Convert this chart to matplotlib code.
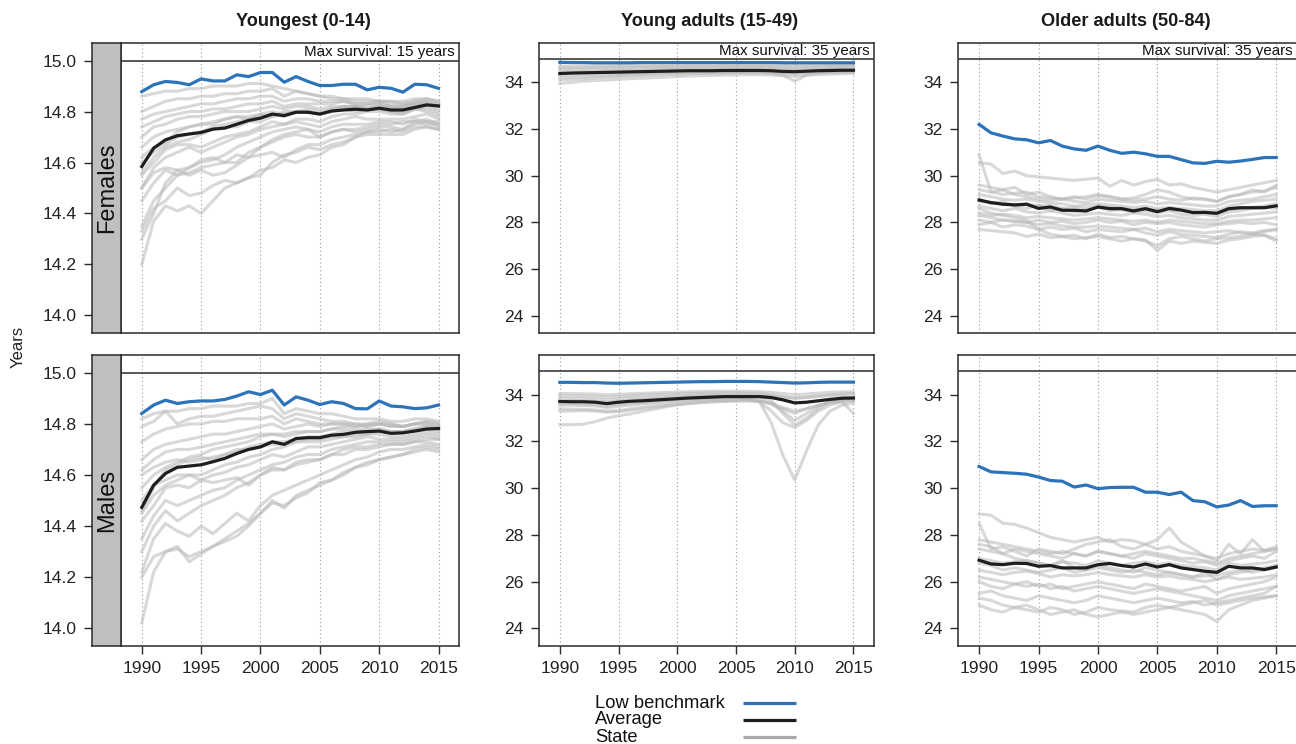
import matplotlib
matplotlib.use("Agg")
import matplotlib.pyplot as plt
import numpy as np

plt.rcParams['font.family'] = ['Liberation Sans', 'DejaVu Sans']

years = list(range(1990, 2016))
col_titles = ["Youngest (0-14)", "Young adults (15-49)", "Older adults (50-84)"]
row_labels = ["Females", "Males"]
max_survival = [15, 35, 35]
strip_texts = ["Max survival: 15 years", "Max survival: 35 years", "Max survival: 35 years"]
legend_labels = ["Low benchmark", "Average", "State"]

# ---------------- Females 0-14 ----------------
f_young_bench = [14.878, 14.905, 14.918, 14.914, 14.905, 14.928, 14.92, 14.92, 14.944, 14.937, 14.953, 14.953, 14.915,
                 14.937, 14.918, 14.902, 14.902, 14.907, 14.907, 14.885, 14.895, 14.891, 14.876, 14.907, 14.905, 14.891]
f_young_avg = [14.584, 14.656, 14.689, 14.705, 14.712, 14.718, 14.731, 14.735, 14.75, 14.765, 14.774, 14.79, 14.784,
               14.797, 14.797, 14.79, 14.802, 14.806, 14.809, 14.806, 14.813, 14.806, 14.806, 14.816, 14.826, 14.822]
f_young_states = [
    [14.86,14.87,14.88,14.88,14.89,14.89,14.90,14.90,14.90,14.91,14.91,14.90,14.89,14.88,14.87,14.86,14.86,14.85,14.85,14.85,14.84,14.84,14.84,14.85,14.85,14.84],
    [14.80,14.82,14.84,14.85,14.85,14.86,14.86,14.87,14.87,14.88,14.88,14.89,14.86,14.88,14.87,14.86,14.85,14.85,14.84,14.84,14.84,14.84,14.83,14.84,14.84,14.83],
    [14.74,14.76,14.78,14.79,14.80,14.80,14.81,14.81,14.82,14.83,14.83,14.84,14.82,14.83,14.83,14.83,14.83,14.84,14.83,14.83,14.84,14.83,14.83,14.84,14.85,14.84],
    [14.70,14.74,14.75,14.77,14.78,14.78,14.79,14.80,14.80,14.80,14.81,14.82,14.81,14.82,14.82,14.81,14.82,14.82,14.82,14.81,14.82,14.82,14.81,14.82,14.83,14.82],
    [14.62,14.66,14.68,14.72,14.74,14.75,14.75,14.77,14.78,14.77,14.79,14.80,14.79,14.80,14.81,14.80,14.81,14.81,14.80,14.81,14.81,14.80,14.80,14.81,14.82,14.80],
    [14.56,14.62,14.66,14.68,14.69,14.71,14.73,14.74,14.74,14.76,14.76,14.78,14.79,14.80,14.80,14.79,14.80,14.82,14.82,14.81,14.81,14.80,14.79,14.81,14.81,14.79],
    [14.55,14.60,14.65,14.67,14.67,14.66,14.68,14.70,14.71,14.72,14.74,14.76,14.75,14.77,14.77,14.76,14.78,14.79,14.79,14.80,14.80,14.79,14.79,14.81,14.80,14.78],
    [14.50,14.58,14.62,14.64,14.66,14.64,14.66,14.68,14.70,14.71,14.73,14.74,14.75,14.76,14.75,14.74,14.76,14.77,14.78,14.77,14.77,14.77,14.77,14.78,14.79,14.77],
    [14.45,14.52,14.57,14.55,14.58,14.60,14.61,14.63,14.66,14.68,14.70,14.72,14.73,14.74,14.73,14.72,14.74,14.75,14.75,14.75,14.76,14.76,14.75,14.77,14.76,14.76],
    [14.35,14.45,14.50,14.55,14.56,14.58,14.59,14.60,14.60,14.64,14.66,14.68,14.70,14.71,14.70,14.70,14.72,14.73,14.73,14.74,14.75,14.75,14.76,14.76,14.77,14.75],
    [14.30,14.40,14.52,14.57,14.58,14.61,14.62,14.60,14.63,14.62,14.66,14.69,14.71,14.72,14.73,14.70,14.72,14.73,14.72,14.73,14.74,14.74,14.73,14.75,14.76,14.74],
    [14.20,14.37,14.43,14.41,14.43,14.40,14.45,14.50,14.52,14.54,14.55,14.60,14.63,14.64,14.66,14.65,14.67,14.68,14.70,14.71,14.71,14.71,14.71,14.73,14.74,14.73],
    [14.33,14.42,14.45,14.50,14.47,14.48,14.51,14.53,14.52,14.54,14.57,14.58,14.61,14.60,14.62,14.63,14.66,14.67,14.70,14.72,14.73,14.72,14.73,14.76,14.75,14.75],
    [14.50,14.56,14.58,14.57,14.55,14.57,14.55,14.56,14.59,14.62,14.63,14.64,14.62,14.65,14.67,14.67,14.69,14.70,14.71,14.72,14.72,14.73,14.72,14.74,14.74,14.73],
    [14.66,14.70,14.72,14.73,14.74,14.75,14.76,14.77,14.78,14.78,14.79,14.78,14.80,14.80,14.80,14.79,14.80,14.81,14.82,14.81,14.82,14.81,14.82,14.83,14.83,14.82],
    [14.60,14.64,14.67,14.70,14.71,14.72,14.74,14.75,14.76,14.77,14.78,14.79,14.78,14.80,14.80,14.79,14.81,14.82,14.82,14.82,14.83,14.82,14.82,14.83,14.84,14.83],
    [14.77,14.79,14.80,14.81,14.82,14.83,14.83,14.84,14.85,14.85,14.86,14.86,14.84,14.85,14.85,14.84,14.84,14.84,14.83,14.83,14.83,14.82,14.82,14.83,14.83,14.81],
]

# ---------------- Males 0-14 ----------------
m_young_bench = [14.841, 14.874, 14.893, 14.88, 14.887, 14.89, 14.89, 14.896, 14.909, 14.926, 14.915, 14.932, 14.874,
                 14.906, 14.893, 14.876, 14.887, 14.88, 14.86, 14.859, 14.89, 14.87, 14.867, 14.86, 14.863, 14.874]
m_young_avg = [14.473, 14.56, 14.606, 14.63, 14.635, 14.64, 14.652, 14.665, 14.684, 14.70, 14.71, 14.73, 14.72,
               14.743, 14.746, 14.746, 14.756, 14.759, 14.767, 14.77, 14.772, 14.763, 14.765, 14.772, 14.78, 14.782]
m_young_states = [
    [14.82,14.84,14.85,14.85,14.86,14.86,14.87,14.87,14.87,14.88,14.88,14.90,14.84,14.86,14.85,14.84,14.84,14.83,14.82,14.82,14.82,14.81,14.81,14.82,14.82,14.81],
    [14.79,14.81,14.85,14.80,14.82,14.83,14.83,14.84,14.85,14.86,14.87,14.86,14.82,14.84,14.83,14.82,14.81,14.81,14.80,14.80,14.81,14.80,14.79,14.80,14.80,14.79],
    [14.73,14.76,14.78,14.79,14.80,14.80,14.81,14.81,14.82,14.82,14.82,14.83,14.80,14.82,14.81,14.80,14.80,14.80,14.79,14.80,14.80,14.79,14.79,14.80,14.81,14.80],
    [14.66,14.70,14.72,14.73,14.74,14.75,14.76,14.76,14.77,14.78,14.79,14.80,14.78,14.79,14.80,14.79,14.80,14.80,14.80,14.79,14.80,14.79,14.79,14.80,14.80,14.79],
    [14.62,14.66,14.69,14.70,14.70,14.71,14.72,14.73,14.74,14.75,14.76,14.76,14.76,14.77,14.77,14.77,14.78,14.78,14.78,14.77,14.78,14.77,14.77,14.78,14.79,14.78],
    [14.46,14.55,14.62,14.64,14.66,14.67,14.66,14.68,14.69,14.71,14.72,14.73,14.73,14.74,14.75,14.75,14.76,14.77,14.77,14.78,14.78,14.77,14.77,14.78,14.79,14.78],
    [14.45,14.52,14.56,14.58,14.60,14.60,14.62,14.64,14.65,14.67,14.68,14.70,14.71,14.73,14.73,14.73,14.74,14.75,14.75,14.76,14.76,14.75,14.75,14.76,14.77,14.76],
    [14.42,14.48,14.55,14.56,14.55,14.58,14.60,14.61,14.63,14.64,14.66,14.68,14.67,14.69,14.71,14.71,14.72,14.73,14.74,14.75,14.74,14.74,14.74,14.75,14.76,14.75],
    [14.35,14.44,14.50,14.48,14.50,14.52,14.54,14.55,14.58,14.60,14.62,14.64,14.65,14.67,14.68,14.68,14.70,14.71,14.72,14.73,14.73,14.73,14.73,14.74,14.75,14.74],
    [14.30,14.40,14.46,14.42,14.45,14.48,14.50,14.52,14.55,14.57,14.60,14.63,14.62,14.65,14.66,14.66,14.68,14.70,14.71,14.71,14.72,14.72,14.72,14.73,14.73,14.72],
    [14.22,14.35,14.41,14.38,14.36,14.40,14.37,14.41,14.45,14.42,14.48,14.52,14.54,14.56,14.58,14.60,14.62,14.64,14.66,14.67,14.69,14.70,14.70,14.71,14.72,14.71],
    [14.20,14.28,14.30,14.31,14.28,14.30,14.32,14.35,14.38,14.41,14.45,14.49,14.48,14.51,14.53,14.57,14.58,14.61,14.63,14.64,14.66,14.67,14.68,14.69,14.70,14.69],
    [14.02,14.22,14.30,14.32,14.26,14.29,14.32,14.34,14.36,14.40,14.45,14.50,14.47,14.52,14.54,14.56,14.58,14.60,14.63,14.65,14.66,14.67,14.68,14.70,14.71,14.70],
    [14.50,14.56,14.58,14.60,14.60,14.58,14.57,14.58,14.59,14.56,14.60,14.62,14.62,14.64,14.65,14.66,14.68,14.68,14.70,14.70,14.71,14.72,14.72,14.73,14.74,14.74],
    [14.60,14.63,14.65,14.66,14.65,14.66,14.67,14.68,14.70,14.70,14.71,14.72,14.72,14.73,14.74,14.74,14.75,14.75,14.76,14.76,14.77,14.77,14.77,14.78,14.78,14.77],
    [14.55,14.60,14.63,14.65,14.67,14.68,14.70,14.71,14.72,14.73,14.75,14.76,14.75,14.76,14.77,14.77,14.78,14.79,14.79,14.79,14.80,14.80,14.79,14.80,14.81,14.80],
]

# ---------------- Females 15-49 ----------------
f_adult_bench = [34.86,34.85,34.85,34.84,34.84,34.84,34.84,34.85,34.85,34.85,34.85,34.85,34.85,
                 34.85,34.85,34.85,34.85,34.85,34.85,34.84,34.84,34.84,34.84,34.84,34.84,34.84]
f_adult_avg = [34.38,34.40,34.41,34.42,34.43,34.44,34.45,34.46,34.47,34.48,34.49,34.50,34.50,
               34.50,34.51,34.51,34.51,34.51,34.50,34.47,34.46,34.48,34.50,34.51,34.52,34.52]
f_adult_states = [
    [34.70,34.70,34.71,34.72,34.72,34.72,34.73,34.73,34.74,34.74,34.74,34.75,34.75,34.75,34.75,34.76,34.76,34.76,34.75,34.74,34.74,34.74,34.75,34.75,34.75,34.76],
    [34.55,34.56,34.57,34.58,34.58,34.59,34.60,34.60,34.61,34.62,34.62,34.63,34.63,34.63,34.64,34.64,34.64,34.64,34.63,34.61,34.60,34.62,34.63,34.64,34.64,34.65],
    [34.30,34.32,34.34,34.36,34.37,34.38,34.40,34.41,34.42,34.44,34.45,34.46,34.46,34.47,34.47,34.48,34.48,34.48,34.47,34.42,34.40,34.44,34.46,34.48,34.49,34.50],
    [34.10,34.13,34.16,34.19,34.22,34.25,34.28,34.30,34.32,34.34,34.36,34.38,34.39,34.40,34.41,34.42,34.42,34.42,34.40,34.30,34.05,34.32,34.40,34.44,34.46,34.47],
    [33.95,34.00,34.05,34.08,34.10,34.13,34.16,34.18,34.20,34.22,34.25,34.27,34.29,34.30,34.31,34.32,34.33,34.33,34.32,34.28,34.26,34.30,34.33,34.35,34.37,34.38],
    [34.45,34.46,34.47,34.48,34.49,34.50,34.51,34.52,34.53,34.54,34.55,34.55,34.56,34.56,34.57,34.57,34.57,34.57,34.56,34.53,34.52,34.54,34.56,34.57,34.58,34.58],
    [34.20,34.22,34.24,34.26,34.28,34.30,34.32,34.34,34.36,34.38,34.39,34.40,34.41,34.42,34.42,34.43,34.43,34.43,34.42,34.38,34.36,34.40,34.42,34.43,34.44,34.45],
    [34.62,34.63,34.63,34.64,34.65,34.66,34.66,34.67,34.67,34.68,34.68,34.69,34.69,34.69,34.70,34.70,34.70,34.70,34.69,34.67,34.66,34.68,34.69,34.70,34.70,34.71],
]

# ---------------- Males 15-49 ----------------
m_adult_bench = [34.53,34.53,34.52,34.52,34.50,34.49,34.50,34.51,34.52,34.53,34.54,34.55,34.56,
                 34.56,34.57,34.57,34.57,34.56,34.54,34.52,34.50,34.51,34.53,34.54,34.54,34.54]
m_adult_avg = [33.71,33.70,33.70,33.68,33.62,33.68,33.72,33.74,33.77,33.80,33.83,33.86,33.88,
               33.90,33.92,33.92,33.92,33.92,33.88,33.78,33.65,33.68,33.74,33.80,33.85,33.86]
m_adult_states = [
    [34.05,34.05,34.04,34.03,34.00,34.02,34.04,34.06,34.08,34.10,34.12,34.13,34.14,34.15,34.15,34.15,34.14,34.13,34.10,34.05,34.00,34.03,34.07,34.10,34.12,34.13],
    [33.85,33.84,33.84,33.82,33.78,33.82,33.86,33.88,33.90,33.93,33.96,33.98,34.00,34.01,34.02,34.02,34.01,34.00,33.96,33.90,33.85,33.88,33.92,33.96,33.98,34.00],
    [33.55,33.55,33.54,33.52,33.45,33.50,33.56,33.60,33.65,33.70,33.74,33.78,33.80,33.82,33.84,33.85,33.85,33.80,33.60,33.30,32.90,33.20,33.50,33.70,33.80,33.82],
    [32.72,32.72,32.74,32.85,33.00,33.10,33.18,33.28,33.38,33.48,33.56,33.62,33.66,33.70,33.72,33.74,33.74,33.72,33.65,33.40,33.20,33.40,33.55,33.68,33.72,33.75],
    [33.40,33.38,33.38,33.35,33.30,33.32,33.40,33.46,33.52,33.58,33.64,33.70,33.74,33.76,33.78,33.79,33.80,33.70,32.80,31.40,30.35,31.60,32.70,33.30,33.55,33.65],
    [33.75,33.74,33.74,33.72,33.68,33.72,33.76,33.80,33.83,33.86,33.89,33.92,33.94,33.95,33.96,33.97,33.96,33.92,33.75,33.20,32.70,33.00,33.40,33.70,33.85,33.88],
    [33.30,33.30,33.32,33.30,33.25,33.28,33.34,33.40,33.46,33.52,33.58,33.63,33.67,33.70,33.72,33.73,33.74,33.72,33.62,33.45,33.30,33.40,33.55,33.65,33.72,33.20],
    [33.95,33.95,33.94,33.93,33.90,33.92,33.95,33.98,34.00,34.02,34.04,34.06,34.07,34.08,34.09,34.09,34.08,34.06,34.00,33.92,33.85,33.90,33.96,34.00,34.04,34.06],
    [33.62,33.62,33.60,33.58,33.50,33.58,33.62,33.66,33.70,33.74,33.78,33.82,33.84,33.86,33.88,33.88,33.86,33.70,33.30,32.80,32.60,32.90,33.30,33.55,33.70,33.75],
]

# ---------------- Females 50-84 ----------------
f_old_bench = [32.20,31.84,31.70,31.58,31.54,31.41,31.51,31.27,31.15,31.09,31.27,31.09,30.96,
               31.01,30.94,30.83,30.83,30.69,30.55,30.53,30.62,30.58,30.63,30.70,30.78,30.78]
f_old_avg = [28.96,28.85,28.78,28.75,28.78,28.60,28.66,28.52,28.52,28.49,28.66,28.59,28.59,
             28.49,28.59,28.46,28.60,28.53,28.42,28.43,28.39,28.59,28.63,28.63,28.63,28.71]
f_old_states = [
    [30.55,30.50,30.10,30.20,30.00,29.95,29.90,29.85,29.80,29.85,29.90,29.55,29.80,29.60,29.75,29.85,29.60,29.65,29.50,29.40,29.30,29.40,29.50,29.60,29.70,29.80],
    [30.90,29.30,29.40,29.50,29.20,29.30,29.10,29.00,29.05,29.10,29.20,29.10,29.00,29.05,29.20,29.40,29.30,29.10,29.00,29.00,28.90,29.10,29.20,29.40,29.30,29.60],
    [29.60,29.50,29.40,29.20,29.10,29.00,28.95,29.00,28.90,28.85,29.00,28.95,28.90,28.85,28.90,28.80,28.85,28.80,28.75,28.70,28.70,28.90,28.95,29.00,29.10,29.20],
    [28.30,28.20,28.10,28.05,28.00,27.90,27.95,27.85,27.80,27.80,27.85,27.80,27.75,27.70,27.75,27.60,27.70,27.65,27.60,27.55,27.60,27.65,27.55,27.50,27.45,27.30],
    [28.60,28.40,28.30,28.20,28.10,27.70,27.50,27.40,27.45,27.30,27.50,27.35,27.40,27.30,27.20,27.00,27.30,27.40,27.30,27.20,27.30,27.35,27.40,27.50,27.60,27.70],
    [27.90,28.00,28.10,28.05,28.00,28.10,28.00,28.05,27.95,28.00,28.10,28.00,28.05,27.90,28.00,27.95,28.00,27.90,27.85,27.80,27.90,27.95,28.00,27.95,28.00,27.90],
    [29.20,29.10,29.00,28.95,29.00,28.90,28.85,28.80,28.70,28.75,28.80,28.75,28.70,28.65,28.70,28.60,28.65,28.60,28.55,28.50,28.50,28.70,28.80,28.90,28.95,29.00],
    [28.70,28.60,28.50,28.60,28.45,28.40,28.50,28.40,28.30,28.35,28.40,28.35,28.30,28.40,28.35,28.25,28.30,28.20,28.15,28.10,28.10,28.25,28.30,28.35,28.40,28.45],
    [28.10,28.00,27.80,27.90,27.85,27.70,27.80,27.70,27.75,27.60,27.70,27.65,27.60,27.70,27.55,27.45,27.60,27.50,27.45,27.40,27.35,27.50,27.60,27.55,27.65,27.70],
    [29.40,29.30,29.20,29.25,29.30,29.10,29.05,29.00,29.10,29.00,29.15,29.10,29.00,28.95,29.00,29.10,29.00,28.95,29.05,29.00,28.90,29.10,29.20,29.30,29.35,29.50],
    [28.90,28.85,28.80,28.75,28.80,28.70,28.75,28.60,28.65,28.60,28.70,28.65,28.60,28.55,28.60,28.50,28.55,28.50,28.45,28.40,28.40,28.55,28.60,28.65,28.70,28.80],
    [28.40,28.30,28.35,28.30,28.20,28.25,28.20,28.15,28.10,28.15,28.20,28.15,28.10,28.05,28.10,28.00,28.10,28.05,28.00,27.95,27.95,28.05,28.10,28.10,28.15,28.20],
    [29.00,28.80,28.90,28.70,28.60,28.75,28.50,28.60,28.45,28.55,28.65,28.50,28.55,28.45,28.50,28.40,28.50,28.35,28.30,28.35,28.25,28.45,28.50,28.60,28.65,28.60],
    [27.70,27.65,27.60,27.55,27.40,27.50,27.35,27.40,27.30,27.35,27.40,27.30,27.20,27.30,27.25,26.80,27.20,27.10,27.20,27.15,27.10,27.25,27.30,27.40,27.45,27.20],
]

# ---------------- Males 50-84 ----------------
m_old_bench = [30.93,30.70,30.67,30.64,30.60,30.48,30.33,30.30,30.05,30.14,29.98,30.03,30.04,
               30.04,29.83,29.83,29.73,29.83,29.47,29.42,29.20,29.28,29.47,29.22,29.25,29.25]
m_old_avg = [26.92,26.76,26.73,26.79,26.78,26.66,26.69,26.59,26.59,26.59,26.73,26.78,26.69,
             26.63,26.76,26.63,26.73,26.59,26.52,26.45,26.40,26.66,26.59,26.59,26.52,26.63]
m_old_states = [
    [28.90,28.85,28.50,28.45,28.30,28.10,27.90,27.80,27.70,27.80,27.90,27.70,27.80,27.75,27.60,27.40,27.50,27.30,27.20,27.10,27.00,27.20,27.30,27.40,27.35,27.50],
    [28.50,27.40,27.50,27.30,27.10,27.40,27.30,27.20,27.40,27.60,27.70,27.80,27.50,27.40,27.60,27.80,28.30,27.70,27.40,27.10,26.90,27.60,27.20,27.80,27.30,27.40],
    [27.40,27.30,27.20,27.40,27.30,27.20,27.10,27.00,27.20,27.10,27.30,27.20,27.10,27.00,27.20,27.10,27.00,26.90,26.80,26.85,26.70,26.90,27.00,27.10,27.00,27.30],
    [26.50,26.40,26.30,26.40,26.45,26.35,26.20,26.30,26.25,26.30,26.40,26.30,26.25,26.20,26.30,26.20,26.25,26.15,26.10,26.00,26.10,26.20,26.10,26.15,26.20,26.30],
    [25.50,25.60,25.40,25.30,25.20,25.40,25.30,25.20,25.10,25.20,25.40,25.30,25.20,25.10,25.20,25.30,25.20,25.10,25.15,25.00,25.10,25.20,25.30,25.40,25.50,25.80],
    [25.00,24.80,24.70,24.90,24.80,24.70,24.90,24.80,24.60,24.70,24.90,24.80,24.75,24.70,24.90,25.00,24.90,24.80,24.70,24.60,24.30,24.80,25.00,25.20,25.30,25.40],
    [26.20,26.10,26.00,25.90,25.80,25.90,25.70,25.80,25.60,25.70,25.80,25.70,25.60,25.50,25.60,25.70,25.60,25.50,25.40,25.30,25.20,25.40,25.50,25.60,25.70,25.80],
    [27.00,26.90,26.80,26.85,26.90,26.80,26.70,26.85,26.80,26.70,26.90,26.80,26.70,26.80,26.85,26.75,26.80,26.70,26.65,26.60,26.50,26.80,26.70,26.75,26.80,26.90],
    [27.60,27.50,27.20,27.00,26.90,26.80,26.70,26.90,26.60,26.50,26.70,26.60,26.50,26.40,26.60,26.50,26.40,26.30,26.20,26.40,26.10,26.30,26.40,26.50,26.60,26.70],
    [26.00,25.80,25.70,25.90,26.00,25.80,25.90,25.70,25.80,25.90,26.00,25.90,25.80,25.70,25.90,25.80,25.70,25.60,25.70,25.80,25.50,25.70,25.80,25.90,26.00,26.20],
    [26.80,26.70,26.50,26.60,26.50,26.40,26.50,26.60,26.40,26.50,26.60,26.50,26.40,26.50,26.40,26.30,26.40,26.30,26.20,26.25,26.30,26.40,26.50,26.40,26.50,26.60],
    [27.80,27.70,27.60,27.50,27.40,27.30,27.20,27.30,27.20,27.10,27.30,27.20,27.10,27.20,27.30,27.20,27.10,27.00,27.00,26.90,26.80,27.00,27.10,27.20,27.30,27.40],
    [25.30,25.20,25.00,24.90,25.00,24.80,24.60,24.70,24.80,24.60,24.50,24.60,24.70,24.60,24.70,24.80,24.90,25.00,25.10,25.20,25.00,25.10,25.20,25.30,25.35,25.40],
]

panels = [
    [(f_young_states, f_young_bench, f_young_avg),
     (f_adult_states, f_adult_bench, f_adult_avg),
     (f_old_states, f_old_bench, f_old_avg)],
    [(m_young_states, m_young_bench, m_young_avg),
     (m_adult_states, m_adult_bench, m_adult_avg),
     (m_old_states, m_old_bench, m_old_avg)],
]

# ---------------- styling ----------------
W, H = 1296, 744
BLUE = '#2C73B9'
BLACK = '#1E1E1E'
STATE = '#B8B8B8'
FRAME = '#2A2A2A'

fig = plt.figure(figsize=(W / 100, H / 100), dpi=100)


def px_axes(x0, y0, x1, y1):
    return fig.add_axes([x0 / W, 1 - y1 / H, (x1 - x0) / W, (y1 - y0) / H])


col_x = [(121.0, 459.3), (539.3, 874.0), (958.3, 1297.0)]
row_y = [(42.7, 333.3), (355.0, 646.0)]
strip_x = (92.3, 121.0)
title_x = [303, 710, 1126]
xlim = (1988.25, 2016.75)
ylims = [(13.93, 15.07), (23.25, 35.70), (23.25, 35.70)]
yticks = [[14.0, 14.2, 14.4, 14.6, 14.8, 15.0], [24, 26, 28, 30, 32, 34], [24, 26, 28, 30, 32, 34]]
xticks = [1990, 1995, 2000, 2005, 2010, 2015]
TICKFS = 12.6

for r in range(2):
    y0, y1 = row_y[r]
    for c in range(3):
        x0, x1 = col_x[c]
        ax = px_axes(x0, y0, x1, y1)
        states, bench, avg = panels[r][c]
        for s in states:
            ax.plot(years, s, color=STATE, alpha=0.55, lw=2.2, solid_joinstyle='round', zorder=2)
        ax.plot(years, avg, color=BLACK, lw=2.3, zorder=4, solid_joinstyle='round')
        ax.plot(years, bench, color=BLUE, lw=2.3, zorder=4, solid_joinstyle='round')
        for xv in xticks:
            ax.axvline(xv, color='#9A9A9A', lw=0.8, ls=(0, (1, 2.5)), zorder=1)
        ax.axhline(max_survival[c], color=FRAME, lw=1.1, zorder=5)
        ax.set_xlim(*xlim)
        ax.set_ylim(*ylims[c])
        for sp in ax.spines.values():
            sp.set_color(FRAME)
            sp.set_linewidth(1.1)
        if r == 0:
            ax.text(0.987, (max_survival[c] + ylims[c][1]) / 2, strip_texts[c],
                    transform=ax.get_yaxis_transform(), ha='right', va='center',
                    fontsize=10.9, color='#111111', zorder=6)
            fig.text(title_x[c] / W, 1 - 21 / H, col_titles[c], ha='center', va='center',
                     fontsize=13.1, fontweight='bold', color='#1a1a1a')
        ax.set_xticks(xticks)
        if r == 1:
            ax.set_xticklabels([str(v) for v in xticks])
            ax.tick_params(axis='x', direction='out', length=6, width=1.0, labelsize=TICKFS,
                           pad=5, colors=FRAME, labelcolor='#222222')
        else:
            ax.tick_params(axis='x', length=0, labelbottom=False)
        if c == 0:
            ax.set_yticks([])
            sx = px_axes(strip_x[0], y0, strip_x[1], y1)
            sx.set_facecolor('#BFBFBF')
            sx.set_xticks([])
            sx.set_ylim(*ylims[c])
            sx.set_yticks(yticks[c])
            sx.set_yticklabels(['%.1f' % v for v in yticks[c]])
            sx.tick_params(axis='y', direction='out', length=6, width=1.0, labelsize=TICKFS,
                           pad=5, colors=FRAME, labelcolor='#222222')
            for sp in sx.spines.values():
                sp.set_color(FRAME)
                sp.set_linewidth(1.1)
            sx.text(0.5, 0.5, row_labels[r], rotation=90, ha='center', va='center',
                    transform=sx.transAxes, fontsize=17, color='#111111')
        else:
            ax.set_yticks(yticks[c])
            ax.set_yticklabels([str(v) for v in yticks[c]])
            ax.tick_params(axis='y', direction='out', length=6, width=1.0, labelsize=TICKFS,
                           pad=5, colors=FRAME, labelcolor='#222222')

fig.text(18.5 / W, 1 - 347 / H, "Years", rotation=90, ha='center', va='center', fontsize=12, color='#222222')

# legend
leg_colors = [BLUE, BLACK, '#A8A8A8']
leg_y = [703, 720, 737]
lax = fig.add_axes([0, 0, 1, 1], facecolor='none')
lax.set_xlim(0, W)
lax.set_ylim(H, 0)
lax.axis('off')
for lab, col, yy in zip(legend_labels, leg_colors, leg_y):
    lax.text(595, yy, lab, ha='left', va='center', fontsize=13.2, color='#111111')
    lax.plot([743, 796], [yy, yy], color=col, lw=2.3, solid_capstyle='butt')

fig.savefig("out.png", dpi=100)
